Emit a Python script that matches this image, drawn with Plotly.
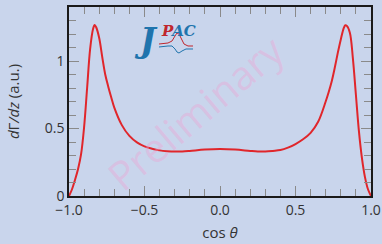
import plotly.graph_objects as go

# ---- data ----
cos_theta = [-1.0, -0.98, -0.96, -0.94, -0.92, -0.90, -0.88, -0.86, -0.84, -0.83, -0.82,
             -0.80, -0.78, -0.76, -0.74, -0.72, -0.70, -0.65, -0.60, -0.55, -0.50, -0.45,
             -0.40, -0.35, -0.30, -0.25, -0.20, -0.10, 0.0, 0.10, 0.20, 0.25, 0.30, 0.35,
             0.40, 0.45, 0.50, 0.55, 0.60, 0.65, 0.70, 0.72, 0.74, 0.76, 0.78, 0.80, 0.82,
             0.83, 0.84, 0.86, 0.88, 0.90, 0.92, 0.94, 0.96, 0.98, 1.0]
dgamma_dz = [0.0, 0.05, 0.12, 0.20, 0.31, 0.51, 0.80, 1.09, 1.24, 1.267, 1.25,
             1.17, 1.03, 0.90, 0.81, 0.73, 0.655, 0.525, 0.445, 0.397, 0.367, 0.350,
             0.338, 0.332, 0.329, 0.330, 0.334, 0.344, 0.348, 0.344, 0.334, 0.330, 0.330, 0.334,
             0.340, 0.358, 0.385, 0.420, 0.468, 0.55, 0.70, 0.77, 0.85, 0.95, 1.06, 1.16, 1.245,
             1.265, 1.26, 1.21, 1.02, 0.75, 0.48, 0.28, 0.14, 0.05, 0.0]

x_tickvals = [-1.0, -0.5, 0.0, 0.5, 1.0]
x_ticktext = ["\u22121.0", "\u22120.5", "0.0", "0.5", "1.0"]
y_tickvals = [0, 0.5, 1]
y_ticktext = ["0", "0.5", "1"]

BG = "#c9d5ec"
FONT = "Open Sans"

fig = go.Figure()
fig.add_trace(go.Scatter(x=cos_theta, y=dgamma_dz, mode="lines",
                         line=dict(color="#e0262b", width=2, shape="spline", smoothing=1.0),
                         hoverinfo="skip", showlegend=False))

axis_common = dict(
    showgrid=False, zeroline=False, showline=True, linecolor="#1a1a1a", linewidth=1.5,
    mirror="ticks", ticks="inside", ticklen=10, tickwidth=1.2, tickcolor="#8a8a8a",
    tickfont=dict(family=FONT, size=14, color="#333333"), automargin=False,
)

fig.update_xaxes(range=[-1, 1], tickvals=x_tickvals, ticktext=x_ticktext,
                 minor=dict(dtick=0.1, ticks="inside", ticklen=7, tickcolor="#8a8a8a", tickwidth=1.2),
                 title=dict(text="cos <i>θ</i>", font=dict(family=FONT, size=15, color="#333333"), standoff=10),
                 **axis_common)
fig.update_yaxes(range=[0, 1.4], tickvals=y_tickvals, ticktext=y_ticktext,
                 minor=dict(dtick=0.1, ticks="inside", ticklen=7, tickcolor="#8a8a8a", tickwidth=1.2),
                 title=dict(text="<i>d</i>Γ<i>/dz</i> (a.u.)", font=dict(family=FONT, size=15, color="#333333"), standoff=22),
                 **axis_common)

L, R, T, B = 69, 11, 7, 48
W, H = 382, 244
pw, ph = W - L - R, H - T - B


def px(X, Y):
    return (X - L) / pw, (H - B - Y) / ph


annotations = []
cx, cy = px(195, 112)
annotations.append(dict(text="Preliminary", x=cx, y=cy, xref="paper", yref="paper",
                        showarrow=False, textangle=-40,
                        font=dict(family=FONT, size=40, color="rgba(240,160,210,0.38)")))
jx, jy = px(146, 40)
annotations.append(dict(text="<b><i>J</i></b>", x=jx, y=jy, xref="paper", yref="paper",
                        showarrow=False, xanchor="center", yanchor="middle",
                        font=dict(family="DejaVu Serif", size=33, color="#1f74ad")))
pacx, pacy = px(159, 31)
annotations.append(dict(text="<b><i><span style='color:#c0262d'>P</span>AC</i></b>", x=pacx, y=pacy,
                        xref="paper", yref="paper", showarrow=False, xanchor="left", yanchor="middle",
                        font=dict(family="DejaVu Serif", size=15, color="#1f74ad")))


def path(points):
    s = ""
    for i, (X, Y) in enumerate(points):
        a, b = px(X, Y)
        s += ("M" if i == 0 else " L") + f" {a:.4f},{b:.4f}"
    return s


red_pts = [(159, 44), (168, 43), (172, 41), (175, 36), (177, 33), (179, 34), (181, 38), (184, 44), (188, 46), (193, 46)]
blue_pts = [(159, 47), (168, 46), (172, 46), (175, 49), (177, 52), (179, 53), (182, 51), (186, 49), (193, 49)]
shapes = [
    dict(type="path", path=path(red_pts), xref="paper", yref="paper", line=dict(color="#c0262d", width=1)),
    dict(type="path", path=path(blue_pts), xref="paper", yref="paper", line=dict(color="#1f74ad", width=1)),
]

fig.update_layout(width=W, height=H, margin=dict(l=L, r=R, t=T, b=B, autoexpand=False),
                  paper_bgcolor=BG, plot_bgcolor=BG,
                  annotations=annotations, shapes=shapes,
                  font=dict(family=FONT, color="#333333"))

fig.write_html("out.html", config={"displayModeBar": False},
               post_script="document.body.style.margin='0';document.body.style.padding='0';"
                           "document.body.style.overflow='hidden';"
                           "document.documentElement.style.background='" + BG + "';")
